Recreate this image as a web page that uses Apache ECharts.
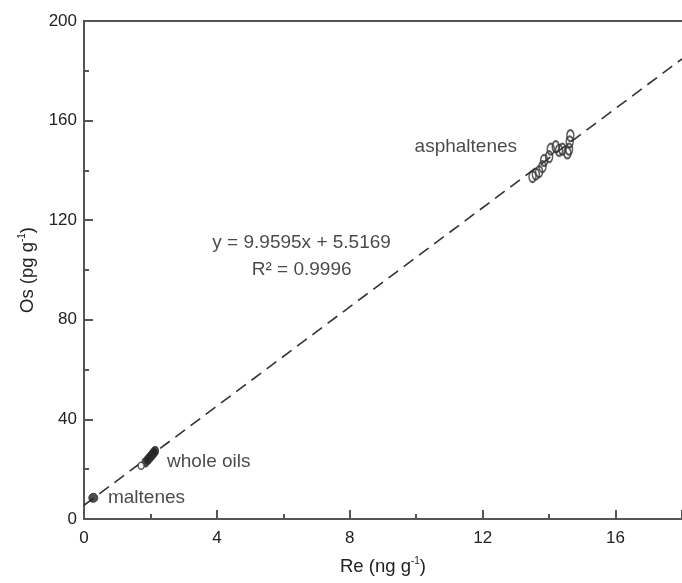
<!DOCTYPE html>
<html>
<head>
<meta charset="utf-8">
<script src="https://cdn.jsdelivr.net/npm/echarts@6/dist/echarts.min.js"></script>
<style>html,body{margin:0;padding:0;background:#fff}#c{width:682px;height:583px}</style>
</head>
<body>
<div id="c"></div>
<script>
// Data
const xTicks = [0, 4, 8, 12, 16];
const yTicks = [0, 40, 80, 120, 160, 200];
const maltenes = [[0.28, 8.5]];
const wholeOilsOpen = [[1.72, 21.4]];
const wholeOils = [[1.85, 22.8], [1.92, 23.8], [1.97, 24.6], [2.02, 25.3], [2.06, 26.0], [2.10, 26.6], [2.14, 27.3]];
const asphaltenes = [[13.5, 137.5], [13.6, 138.5], [13.7, 139.5], [13.8, 141.5], [13.85, 144.0], [14.0, 145.5], [14.05, 148.5], [14.2, 149.5], [14.3, 148.0], [14.4, 148.5], [14.55, 147.0], [14.6, 148.5], [14.62, 151.5], [14.64, 154.0]];
const slope = 9.9595, intercept = 5.5169;
const fitX = [0, 18];
const labels = [
  {name: 'asphaltenes', x: 9.95, y: 149.3, align: 'left'},
  {name: 'whole oils', x: 2.5, y: 23, align: 'left'},
  {name: 'maltenes', x: 0.72, y: 8.4, align: 'left'},
  {name: 'y = 9.9595x + 5.5169', x: 6.55, y: 110.8, align: 'center'},
  {name: 'R² = 0.9996', x: 6.55, y: 100, align: 'center'}
];

const fitLine = fitX.map(x => [x, slope * x + intercept]);
const axisColor = '#555';
const font = 'Liberation Sans, Arial, sans-serif';
const nameRich = {
  n: {fontSize: 18.5, color: '#222', fontFamily: font, lineHeight: 20, verticalAlign: 'bottom'},
  s: {fontSize: 10, color: '#222', fontFamily: font, lineHeight: 20, verticalAlign: 'top'}
};

const chart = echarts.init(document.getElementById('c'), null, {renderer: 'canvas'});
chart.setOption({
  animation: false,
  grid: {left: 84, right: 0, top: 21, bottom: 64},
  xAxis: [{
    type: 'value', min: 0, max: 18, interval: 4,
    axisLine: {show: true, lineStyle: {color: axisColor, width: 2}},
    axisTick: {show: true, inside: true, length: 9, lineStyle: {color: axisColor, width: 2}},
    minorTick: {show: true, splitNumber: 2, length: 5, lineStyle: {color: axisColor, width: 2}},
    splitLine: {show: false},
    axisLabel: {color: '#222', fontSize: 17, fontFamily: font, margin: 11, showMaxLabel: false},
    name: '{n|Re (ng g}{s|-1}{n|)}',
    nameLocation: 'middle', nameGap: 37,
    nameTextStyle: {rich: nameRich}
  }, {
    type: 'value', min: 0, max: 18, position: 'top',
    axisLine: {show: true, lineStyle: {color: axisColor, width: 2}},
    axisTick: {show: false}, axisLabel: {show: false}, splitLine: {show: false}
  }],
  yAxis: [{
    type: 'value', min: 0, max: 200, interval: 40,
    axisLine: {show: true, lineStyle: {color: axisColor, width: 2}},
    axisTick: {show: true, inside: true, length: 9, lineStyle: {color: axisColor, width: 2}},
    minorTick: {show: true, splitNumber: 2, length: 5, lineStyle: {color: axisColor, width: 2}},
    splitLine: {show: false},
    axisLabel: {color: '#222', fontSize: 17, fontFamily: font, margin: 7},
    name: '{n|Os (pg g}{s|-1}{n|)}',
    nameLocation: 'middle', nameGap: 46,
    nameTextStyle: {rich: nameRich}
  }],
  series: [
    {
      type: 'line', data: fitLine, symbol: 'none', z: 1,
      lineStyle: {color: '#333', width: 1.6, type: [12, 7]}
    },
    {
      type: 'scatter', data: maltenes, symbol: 'circle', symbolSize: 9, z: 3,
      itemStyle: {color: '#222', borderColor: '#222', borderWidth: 1}
    },
    {
      type: 'scatter', data: wholeOils, symbol: 'circle', symbolSize: [7, 9], z: 3,
      itemStyle: {color: '#222', borderColor: '#333', borderWidth: 1.2}
    },
    {
      type: 'scatter', data: wholeOilsOpen, symbol: 'circle', symbolSize: [6, 7], z: 3,
      itemStyle: {color: '#fff', borderColor: '#333', borderWidth: 1.5}
    },
    {
      type: 'scatter', data: asphaltenes, symbol: 'circle', symbolSize: [7, 11], z: 3,
      itemStyle: {color: 'rgba(255,255,255,0)', borderColor: '#333', borderWidth: 1.8}
    },
    {
      type: 'scatter', symbol: 'circle', symbolSize: 1, z: 4, silent: true,
      itemStyle: {color: 'rgba(0,0,0,0)'},
      labelLayout: {hideOverlap: false},
      data: labels.map(l => ({
        value: [l.x, l.y], name: l.name,
        label: {show: true, position: 'inside', formatter: l.name, align: l.align, verticalAlign: 'middle',
          color: '#1a1a1a', fontSize: 19, fontFamily: font, textBorderWidth: 0}
      }))
    }
  ]
});
</script>
</body>
</html>
